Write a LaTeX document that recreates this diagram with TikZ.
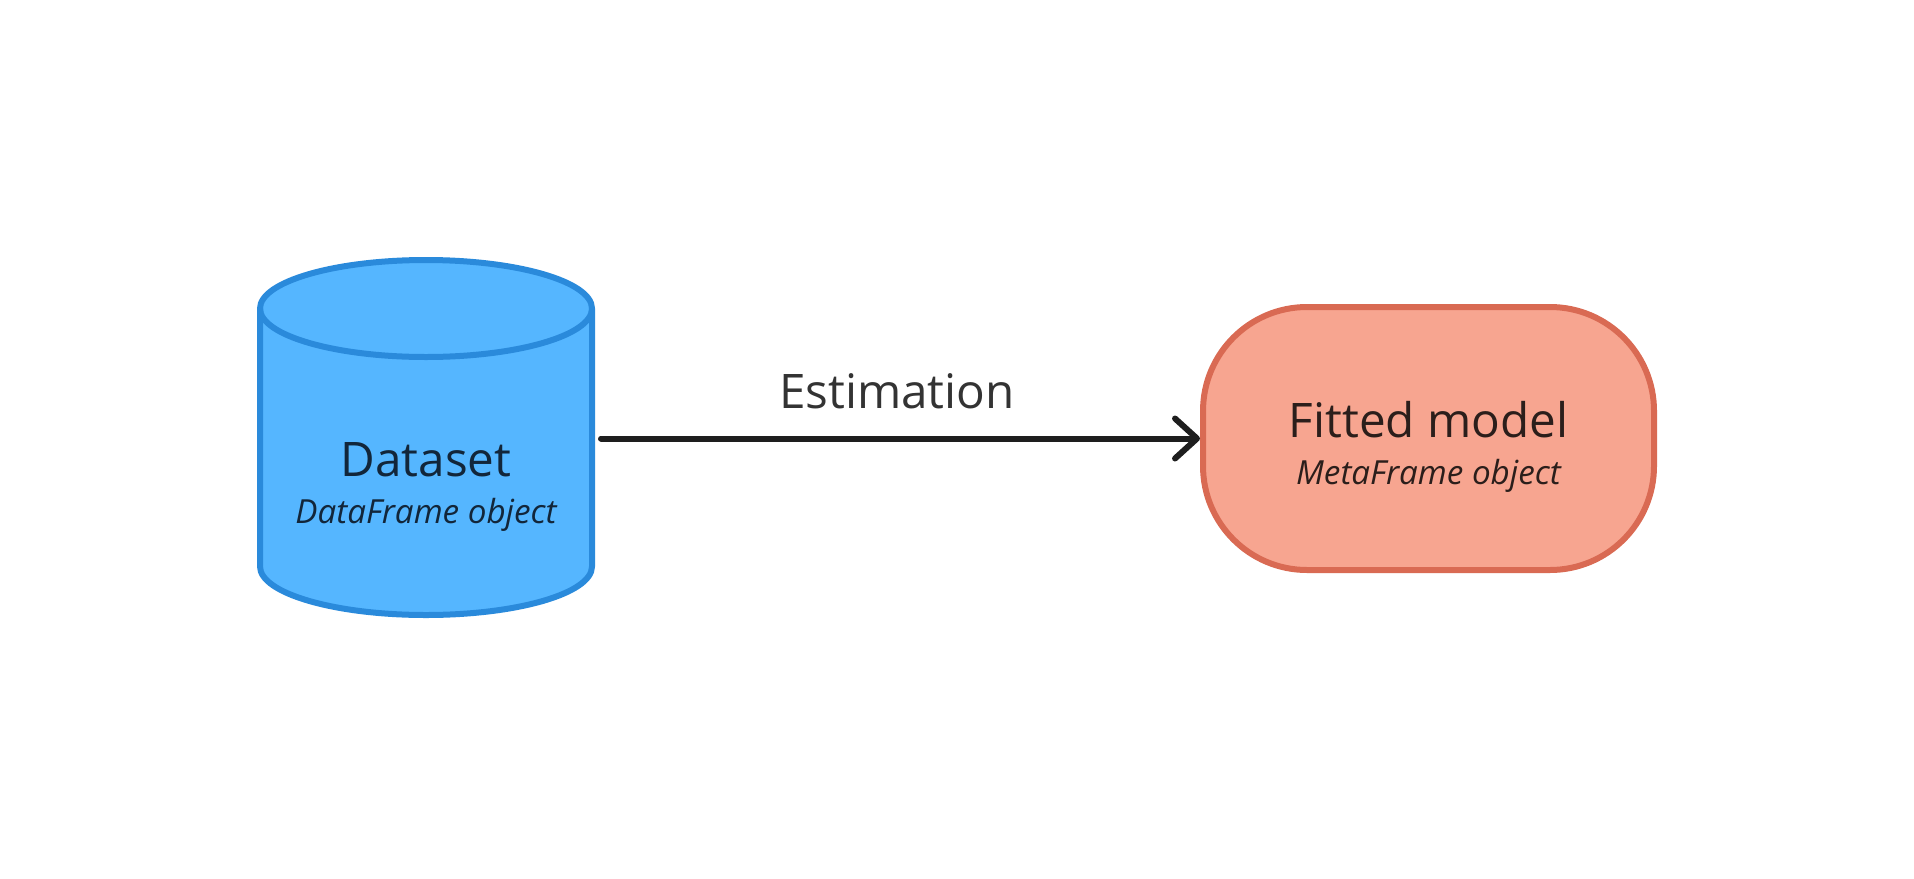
\documentclass[tikz,border=0pt]{standalone}
\usepackage{fontspec}
\setmainfont{Open Sans}
\usetikzlibrary{arrows.meta}
\definecolor{cylfill}{HTML}{55B6FF}
\definecolor{cylline}{HTML}{2A8ADB}
\definecolor{cyltext}{HTML}{12263A}
\definecolor{boxfill}{HTML}{F7A590}
\definecolor{boxline}{HTML}{D96A53}
\definecolor{boxtext}{HTML}{2B1E1B}
\definecolor{arrowcol}{HTML}{1E1E1E}
\definecolor{labtext}{HTML}{333333}
\tikzset{
  cylstyle/.style={fill=cylfill, draw=cylline, line width=3pt, line join=round},
  fmbox/.style={rectangle, rounded corners=52pt, fill=boxfill, draw=boxline, line width=3pt,
    minimum width=225.5pt, minimum height=131.5pt, inner sep=0pt},
  holder/.style={rectangle, draw=none, inner sep=0pt, outer sep=0pt, minimum width=169pt, minimum height=181pt},
  titletext/.style={anchor=base, inner sep=0pt, font=\fontsize{23.8pt}{28pt}\selectfont},
  subtext/.style={anchor=base, inner sep=0pt, font=\fontsize{16.6pt}{20pt}\selectfont\itshape},
  flow/.style={draw=arrowcol, line width=3pt, line cap=round, line join=round,
    -{Straight Barb[length=11pt, width=20pt, line cap=round, line join=round]}}
}
\begin{document}
\begin{tikzpicture}[x=0.5pt, y=-0.5pt]
\useasboundingbox (0,0) rectangle (1914,878);
% cylinder
\path[cylstyle] (260,308.5) -- (260,566.5) arc (180:0:166 and 48.5) -- (592,308.5) arc (0:-180:166 and 48.5) -- cycle;
\draw[cylstyle, fill=none] (260,308.5) arc (180:0:166 and 48.5);
\node[holder] (ds) at (426,438.5) {};
\node[titletext, text=cyltext] (dstitle) at (426,476) {Dataset};
\node[subtext, text=cyltext] (dssub) at (426,523) {DataFrame object};
% fitted model
\node[fmbox] (fm) at (1428.5,438.5) {};
\node[titletext, text=boxtext] (fmtitle) at (1428.5,437) {Fitted model};
\node[subtext, text=boxtext] (fmsub) at (1428.5,484) {MetaFrame object};
% arrow
\draw[flow] ([xshift=3pt]ds.east) -- (fm.west);
\node[titletext, text=labtext] (est) at (897,408) {Estimation};
\end{tikzpicture}
\end{document}
